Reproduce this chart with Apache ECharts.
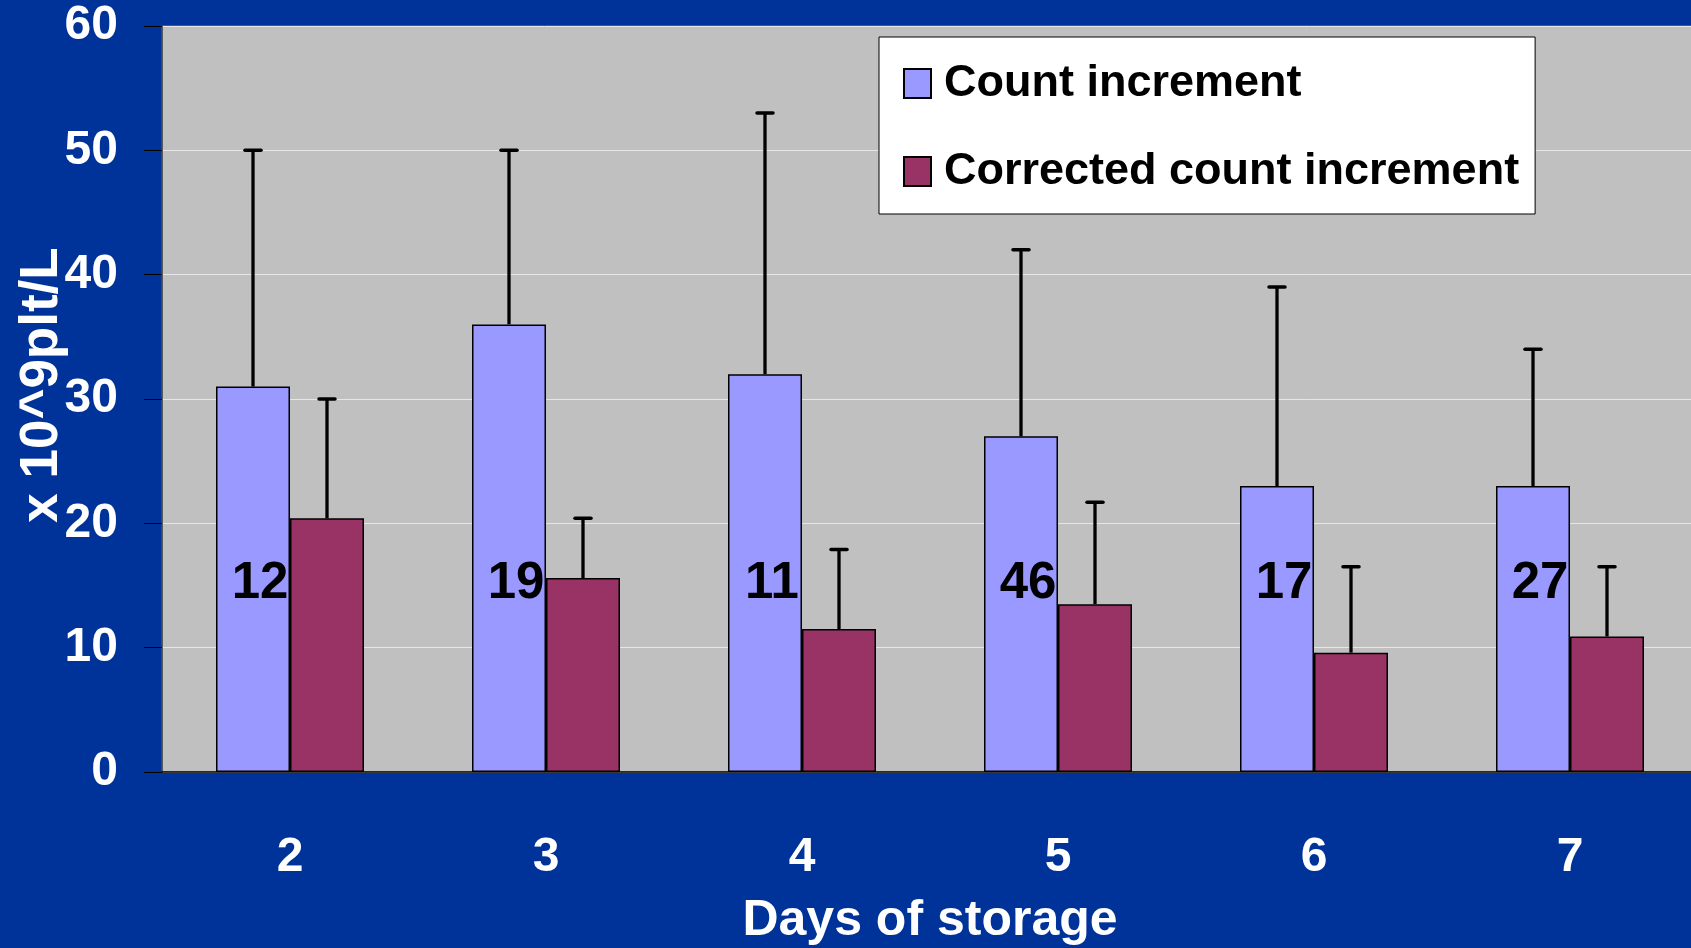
<!DOCTYPE html>
<html>
<head>
<meta charset="utf-8">
<script src="https://cdn.jsdelivr.net/npm/echarts@6/dist/echarts.min.js"></script>
<style>
html,body{margin:0;padding:0;background:#003399;}
#c{width:1691px;height:948px;}
</style>
</head>
<body>
<div id="c"></div>
<script>
const categories = ['2', '3', '4', '5', '6', '7'];
const countIncrement = [31, 36, 32, 27, 23, 23];
const countIncrementUpper = [50, 50, 53, 42, 39, 34];
const correctedIncrement = [20.4, 15.6, 11.5, 13.5, 9.6, 10.9];
const correctedIncrementUpper = [30, 20.4, 17.9, 21.7, 16.5, 16.5];
const nLabels = ['12', '19', '11', '46', '17', '27'];
const yTicks = [0, 10, 20, 30, 40, 50, 60];

const FONT = "'Liberation Sans', Arial, sans-serif";
const BAR_W = 74;

function errData(vals, uppers) {
  return vals.map((v, i) => [i, v, uppers[i]]);
}
function errRender(side) {
  return function (params, api) {
    const i = api.value(0);
    const lo = api.coord([i, api.value(1)]);
    const hi = api.coord([i, api.value(2)]);
    const x = lo[0] + side * BAR_W / 2;
    const cap = 8;
    return {
      type: 'group',
      children: [
        { type: 'line', shape: { x1: x, y1: lo[1], x2: x, y2: hi[1] }, style: { stroke: '#000', lineWidth: 3.3 } },
        { type: 'line', shape: { x1: x - cap, y1: hi[1], x2: x + cap, y2: hi[1] }, style: { stroke: '#000', lineWidth: 3.5, lineCap: 'round' } }
      ]
    };
  };
}

const chart = echarts.init(document.getElementById('c'), null, { renderer: 'canvas' });
chart.setOption({
  backgroundColor: '#003399',
  animation: false,
  textStyle: { fontFamily: FONT },
  grid: {
    left: 162, right: -7, top: 26, bottom: 176,
    outerBoundsMode: 'none',
    containLabel: false,
    show: true, backgroundColor: '#C0C0C0', borderColor: '#808080', borderWidth: 1
  },
  legend: {
    orient: 'vertical',
    left: 879, top: 37,
    padding: [24, 16, 20, 24],
    itemGap: 43,
    itemWidth: 27, itemHeight: 29,
    icon: 'rect',
    backgroundColor: '#FFFFFF',
    borderColor: '#000000', borderWidth: 1,
    textStyle: { fontFamily: FONT, fontWeight: 'bold', fontSize: 45, color: '#000', padding: [0, 0, 0, 8] },
    data: ['Count increment', 'Corrected count increment']
  },
  xAxis: {
    type: 'category',
    data: categories,
    name: 'Days of storage',
    nameLocation: 'middle',
    nameGap: 124,
    nameMoveOverlap: false,
    nameTextStyle: { color: '#fff', fontWeight: 'bold', fontSize: 50, fontFamily: FONT },
    axisLine: { lineStyle: { color: '#000', width: 1.5 } },
    axisTick: { length: 18, lineStyle: { color: '#000', width: 1 } },
    axisLabel: { color: '#fff', fontWeight: 'bold', fontSize: 48, margin: 62, fontFamily: FONT }
  },
  yAxis: {
    type: 'value',
    min: yTicks[0], max: yTicks[yTicks.length - 1], interval: 10,
    name: 'x 10^9plt/L',
    nameLocation: 'middle',
    nameGap: 93,
    nameMoveOverlap: false,
    nameRotate: 90,
    nameTextStyle: { color: '#fff', fontWeight: 'bold', fontSize: 53, fontFamily: FONT, padding: [0, 0, 0, 28] },
    axisLine: { show: true, lineStyle: { color: '#404040', width: 1.5 } },
    axisTick: { show: true, length: 18, lineStyle: { color: '#000', width: 1 } },
    axisLabel: { color: '#fff', fontWeight: 'bold', fontSize: 48, margin: 44, fontFamily: FONT },
    splitLine: { show: true, lineStyle: { color: '#E6E6E6', width: 1 } }
  },
  series: [
    {
      name: 'Count increment',
      type: 'bar',
      data: countIncrement,
      barWidth: BAR_W,
      barGap: '0%',
      itemStyle: { color: '#9999FF', borderColor: '#000', borderWidth: 1.5 },
      label: {
        show: true,
        position: 'insideBottom',
        offset: [7, -158],
        formatter: p => nLabels[p.dataIndex],
        color: '#000', fontWeight: 'bold', fontSize: 51, fontFamily: FONT
      },
      z: 2
    },
    {
      name: 'Corrected count increment',
      type: 'bar',
      data: correctedIncrement,
      barWidth: BAR_W,
      barGap: '0%',
      itemStyle: { color: '#993366', borderColor: '#000', borderWidth: 1.5 },
      z: 2
    },
    {
      type: 'custom',
      renderItem: errRender(-1),
      data: errData(countIncrement, countIncrementUpper),
      encode: { x: 0, y: [1, 2] },
      z: 5, silent: true
    },
    {
      type: 'custom',
      renderItem: errRender(1),
      data: errData(correctedIncrement, correctedIncrementUpper),
      encode: { x: 0, y: [1, 2] },
      z: 5, silent: true
    }
  ]
});
</script>
</body>
</html>
